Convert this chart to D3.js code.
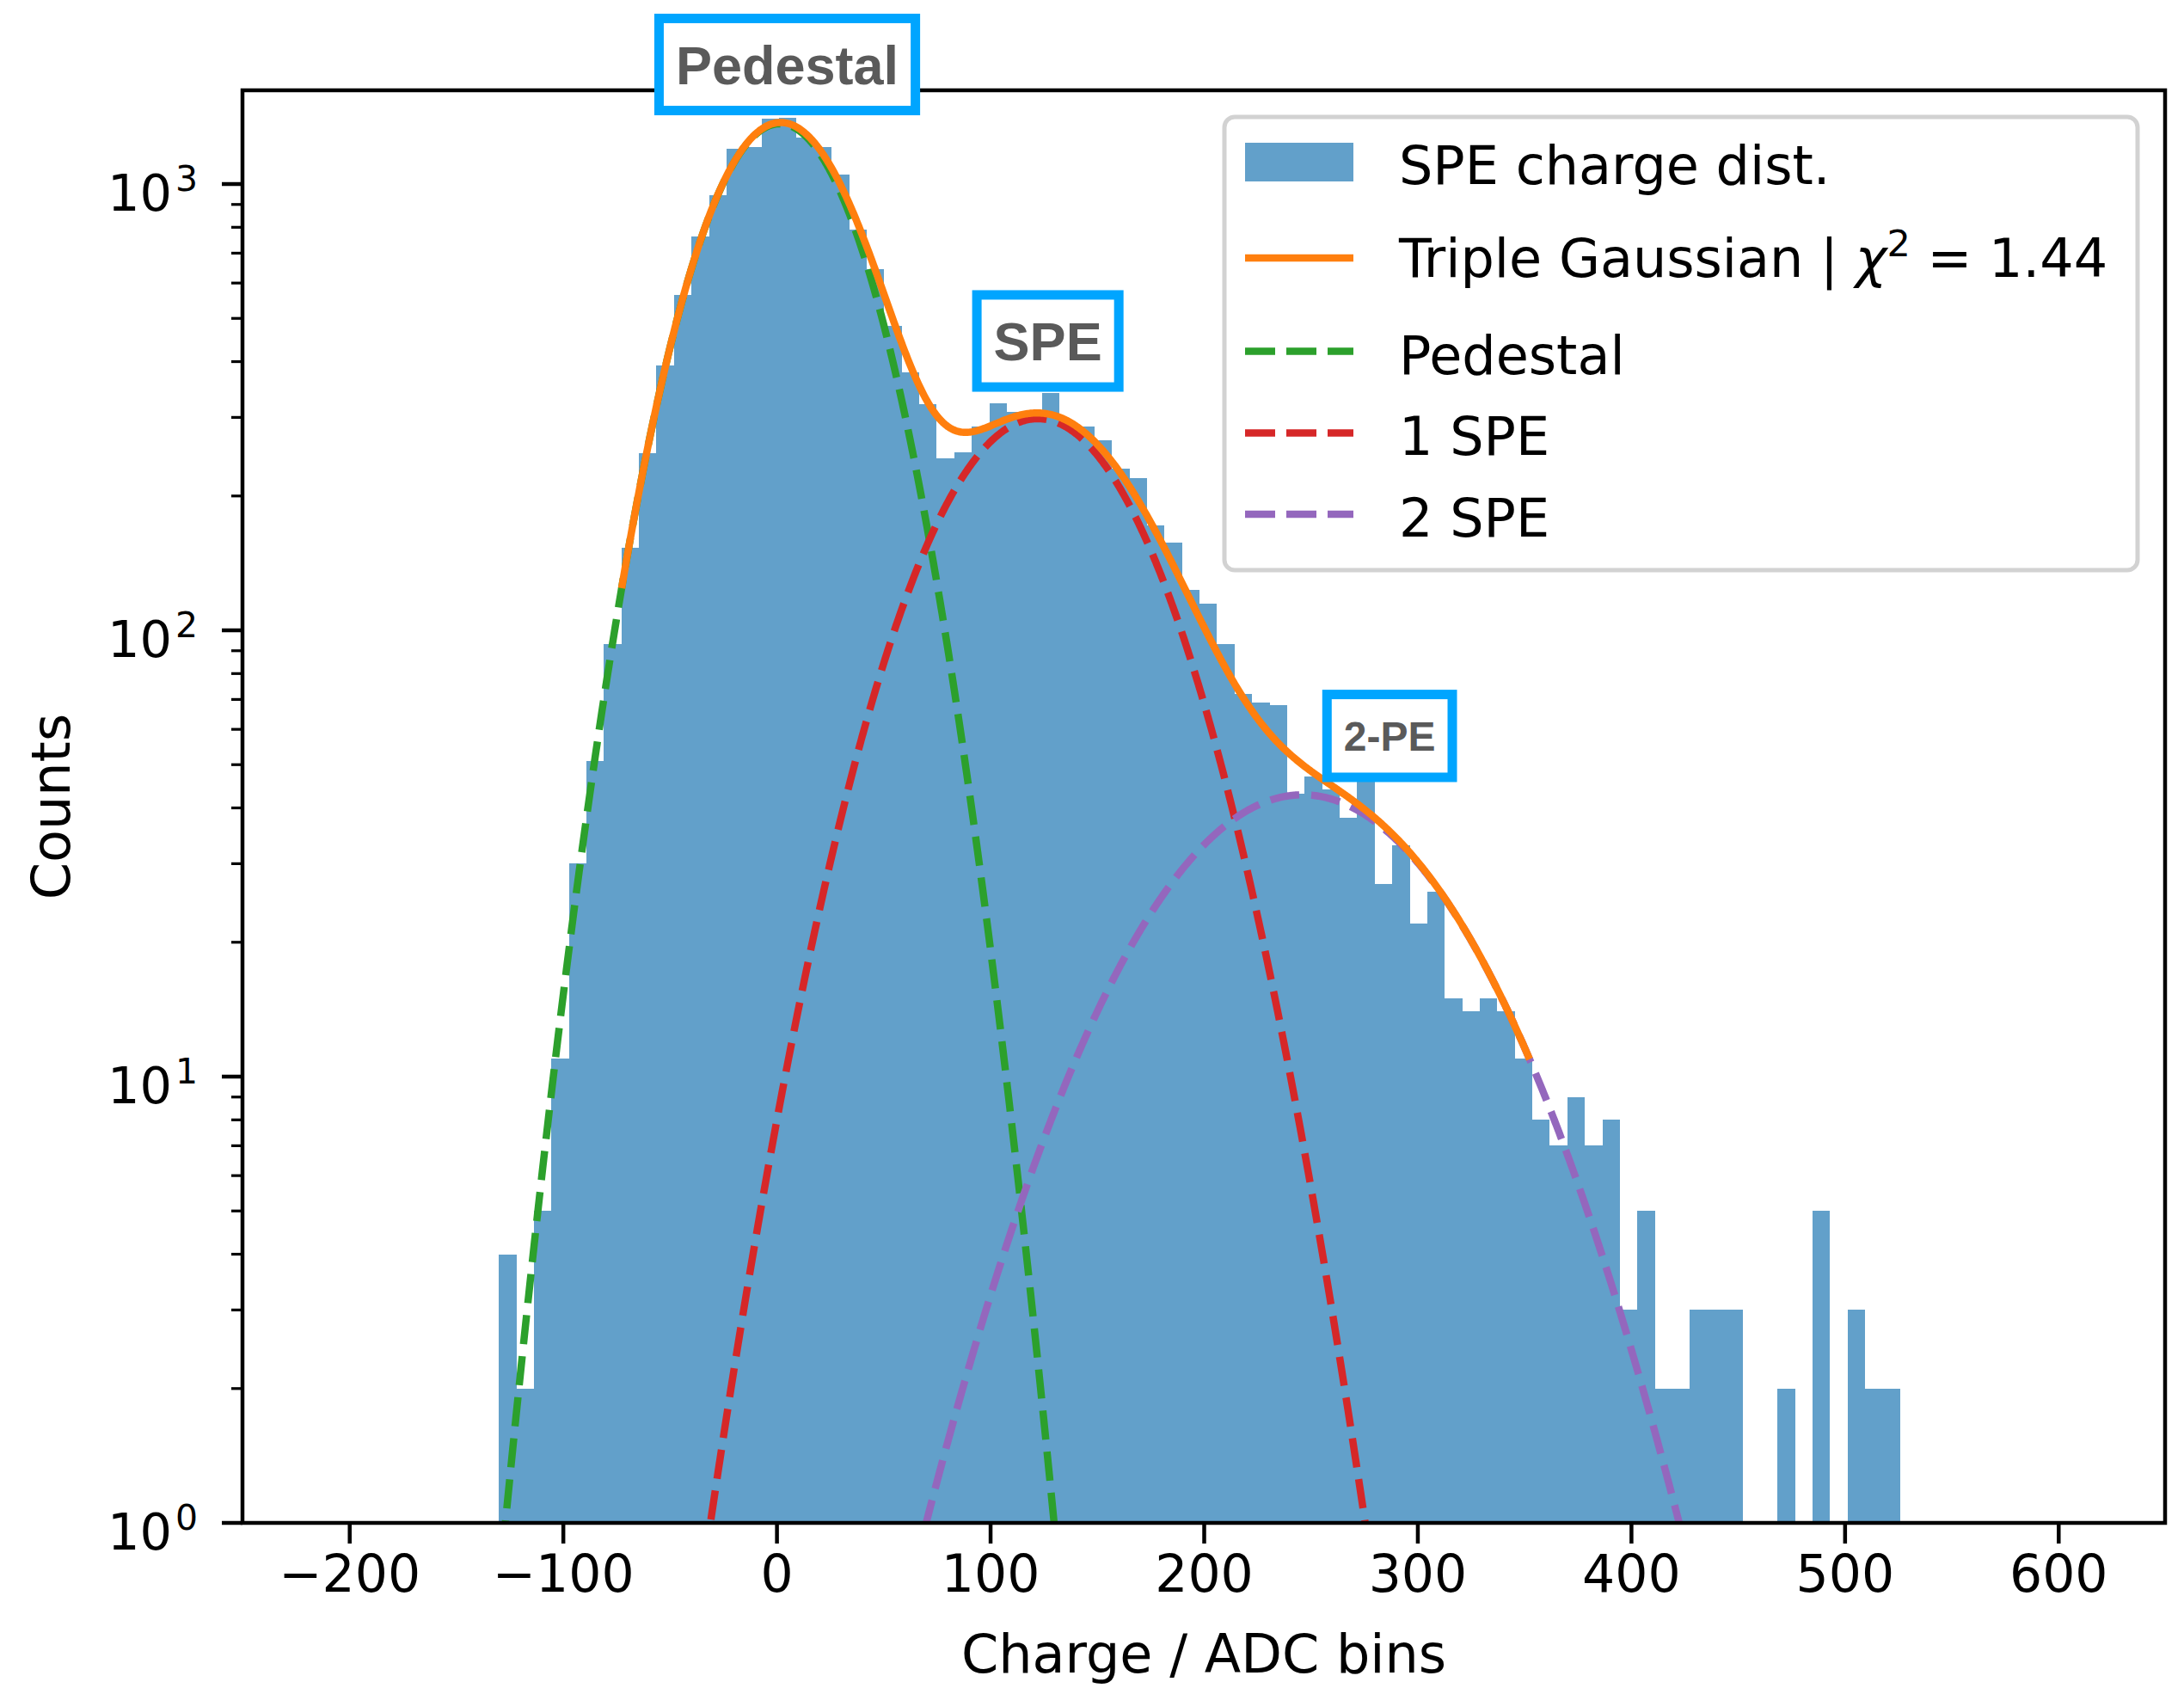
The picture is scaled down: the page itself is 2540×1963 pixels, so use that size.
<!DOCTYPE html>
<html>
<head>
<meta charset="utf-8">
<script src="https://cdn.jsdelivr.net/npm/d3@7"></script>
<style>
  body { margin: 0; background: #fff; }
</style>
</head>
<body>
<script>
// histogram: 80 equal bins starting at binStart
var binStart = -130,
    binWidth = 8.2;
var counts = [4, 2, 5, 11, 30, 51, 93, 153, 249, 393,
              564, 762, 945, 1200, 1210, 1400, 1410, 1270, 1208, 1050,
              792, 646, 482, 378, 321, 243, 250, 286, 322, 308,
              308, 341, 286, 286, 267, 230, 219, 172, 157, 123,
              115, 93, 72, 69, 68, 43, 47, 44, 38, 46,
              27, 33, 22, 26, 15, 14, 15, 14, 11, 8,
              7, 9, 7, 8, 3, 5, 2, 2, 3, 3,
              3, 0, 0, 2, 0, 5, 0, 3, 2, 2];

// fitted gaussians: [amplitude, mean, sigma]
var pedestalFit = [1365, 1.5, 33.8];
var spe1Fit = [298, 122.3, 45.4];
var spe2Fit = [42.8, 246.3, 64.3];
var fitRange = [-72.5, 352.5];

var xTicks = [-200, -100, 0, 100, 200, 300, 400, 500, 600];
var yDecades = [0, 1, 2, 3];

var legendLabels = ["SPE charge dist.", "Triple Gaussian | ", "Pedestal", "1 SPE", "2 SPE"];
var chiSquared = "1.44";

var peakLabels = ["Pedestal", "SPE", "2-PE"],
    peakLabelX = [5, 127, 287],
    peakLabelY = [1853, 445, 58];

(function() {
    var W = 2540, H = 1963,
        pLeft = 282, pRight = 2518, pTop = 105, pBottom = 1771;

    var histColor = "#62a0ca",
        colTotal = "#ff7f0e",
        colPed = "#2ca02c",
        colSpe1 = "#d62728",
        colSpe2 = "#9467bd",
        boxBlue = "#00a5ff",
        lineW = 8.5,
        dash = "34,14",
        font = "DejaVu Sans, sans-serif";

    var x = d3.scaleLinear().domain([-250, 650]).range([pLeft, pRight]);
    var y = d3.scaleLog().domain([1, 1622]).range([pBottom, pTop]);

    function gauss(p, v) {
        return p[0] * Math.exp(-(v - p[1]) * (v - p[1]) / (2 * p[2] * p[2]));
    }

    var svg = d3.select("body").append("svg")
                .attr("width", W)
                .attr("height", H)
                .style("font-family", font);

    svg.append("rect").attr("width", W).attr("height", H).attr("fill", "#fff");

    svg.append("clipPath").attr("id", "plotClip")
       .append("rect")
       .attr("x", pLeft).attr("y", pTop)
       .attr("width", pRight - pLeft).attr("height", pBottom - pTop);

    var plot = svg.append("g").attr("clip-path", "url(#plotClip)");

    // bars
    var bins = counts.map(function(c, i) {
        return {x0: binStart + i * binWidth, x1: binStart + (i + 1) * binWidth, n: c};
    }).filter(function(d) { return d.n > 0; });

    plot.selectAll(".bar")
        .data(bins)
        .enter().append("rect")
        .attr("class", "bar")
        .attr("x", function(d) { return x(d.x0); })
        .attr("width", function(d) { return x(d.x1) - x(d.x0); })
        .attr("y", function(d) { return y(d.n); })
        .attr("height", function(d) { return pBottom - y(d.n); })
        .attr("fill", histColor)
        .attr("shape-rendering", "crispEdges");

    // curves: components first, total fit on top
    var line = d3.line()
                 .x(function(d) { return x(d[0]); })
                 .y(function(d) { return y(Math.max(d[1], 1e-3)); });

    var fullX = d3.range(binStart, binStart + counts.length * binWidth + 0.01, 0.5);
    var fitX = d3.range(fitRange[0], fitRange[1] + 0.01, 0.5);

    [[pedestalFit, colPed], [spe1Fit, colSpe1], [spe2Fit, colSpe2]].forEach(function(c) {
        plot.append("path")
            .datum(fullX.map(function(v) { return [v, gauss(c[0], v)]; }))
            .attr("d", line)
            .attr("fill", "none")
            .attr("stroke", c[1])
            .attr("stroke-width", lineW)
            .attr("stroke-dasharray", dash);
    });

    plot.append("path")
        .datum(fitX.map(function(v) { return [v, gauss(pedestalFit, v) + gauss(spe1Fit, v) + gauss(spe2Fit, v)]; }))
        .attr("d", line)
        .attr("fill", "none")
        .attr("stroke", colTotal)
        .attr("stroke-width", lineW);

    // spines
    svg.append("rect")
       .attr("x", pLeft).attr("y", pTop)
       .attr("width", pRight - pLeft).attr("height", pBottom - pTop)
       .attr("fill", "none")
       .attr("stroke", "#000")
       .attr("stroke-width", 4.5);

    // x axis
    var xAxis = svg.append("g")
                   .attr("transform", "translate(0," + pBottom + ")")
                   .call(d3.axisBottom(x).tickValues(xTicks).tickSize(24).tickPadding(13)
                           .tickFormat(function(d) { return d < 0 ? "\u2212" + (-d) : "" + d; }));
    xAxis.select(".domain").remove();
    xAxis.selectAll("line").attr("stroke-width", 4.5);
    xAxis.selectAll("text")
         .attr("font-size", 60)
         .attr("fill", "#000")
         .style("font-family", font);

    // y axis: major and minor ticks
    var minor = [];
    yDecades.forEach(function(k) {
        for (var m = 2; m <= 9; m += 1) {
            if (m * Math.pow(10, k) < y.domain()[1]) { minor.push(m * Math.pow(10, k)); }
        }
    });

    svg.selectAll(".ytMinor")
       .data(minor)
       .enter().append("line")
       .attr("x1", pLeft - 13).attr("x2", pLeft)
       .attr("y1", function(d) { return y(d); })
       .attr("y2", function(d) { return y(d); })
       .attr("stroke", "#000")
       .attr("stroke-width", 3.2);

    var yMajor = svg.selectAll(".ytMajor")
                    .data(yDecades)
                    .enter().append("g")
                    .attr("transform", function(d) { return "translate(0," + y(Math.pow(10, d)) + ")"; });

    yMajor.append("line")
          .attr("x1", pLeft - 24).attr("x2", pLeft)
          .attr("stroke", "#000")
          .attr("stroke-width", 4.5);

    yMajor.append("text")
          .attr("x", 200).attr("y", 31)
          .attr("text-anchor", "end")
          .attr("font-size", 59)
          .text("10");

    yMajor.append("text")
          .attr("x", 204).attr("y", 8)
          .attr("font-size", 41)
          .text(function(d) { return d; });

    // axis labels
    svg.append("text")
       .attr("x", (pLeft + pRight) / 2).attr("y", 1945)
       .attr("text-anchor", "middle")
       .attr("font-size", 62)
       .text("Charge / ADC bins");

    svg.append("text")
       .attr("transform", "translate(81," + ((pTop + pBottom) / 2) + ") rotate(-90)")
       .attr("text-anchor", "middle")
       .attr("font-size", 62)
       .text("Counts");

    // legend
    var legend = svg.append("g");
    legend.append("rect")
          .attr("x", 1424).attr("y", 136)
          .attr("width", 1062).attr("height", 527)
          .attr("rx", 12)
          .attr("fill", "#fff")
          .attr("fill-opacity", 0.8)
          .attr("stroke", "#d2d2d2")
          .attr("stroke-width", 5);

    var rowMid = [188.5, 300, 408.5, 503.5, 598],
        rowBase = [214, 322, 435, 529, 624],
        rowColor = [histColor, colTotal, colPed, colSpe1, colSpe2];

    legend.append("rect")
          .attr("x", 1448).attr("y", 166)
          .attr("width", 126).attr("height", 45)
          .attr("fill", histColor);

    [1, 2, 3, 4].forEach(function(i) {
        legend.append("line")
              .attr("x1", 1448).attr("x2", 1574)
              .attr("y1", rowMid[i]).attr("y2", rowMid[i])
              .attr("stroke", rowColor[i])
              .attr("stroke-width", lineW)
              .attr("stroke-dasharray", i === 1 ? null : "35,13");
    });

    legendLabels.forEach(function(t, i) {
        var tx = legend.append("text")
                       .attr("x", 1627).attr("y", rowBase[i])
                       .attr("font-size", 62)
                       .text(t);
        if (i === 1) {
            tx.append("tspan").attr("font-style", "italic").text("\u03c7");
            tx.append("tspan").attr("font-size", 43).attr("dy", -24).text("2");
            tx.append("tspan").attr("dy", 24).text(" = " + chiSquared);
        }
    });

    // peak annotations
    peakLabels.forEach(function(t, i) {
        var fs = i === 2 ? 48 : 63,
            cx = x(peakLabelX[i]),
            cy = y(peakLabelY[i]);
        var g = svg.append("g");
        var r = g.append("rect");
        var tx = g.append("text")
                  .attr("x", cx)
                  .attr("y", cy + 0.358 * fs)
                  .attr("text-anchor", "middle")
                  .style("font-family", "Liberation Sans, Arial, sans-serif")
                  .attr("font-weight", "bold")
                  .attr("font-size", fs)
                  .attr("fill", "#5a5a5a")
                  .text(t);
        var w = tx.node().getComputedTextLength() + 2 * 19.5,
            h = 0.716 * fs + 62;
        r.attr("x", cx - w / 2).attr("y", cy - h / 2)
         .attr("width", w).attr("height", h)
         .attr("fill", "#fff")
         .attr("stroke", boxBlue)
         .attr("stroke-width", 11);
    });
})();
</script>
</body>
</html>
